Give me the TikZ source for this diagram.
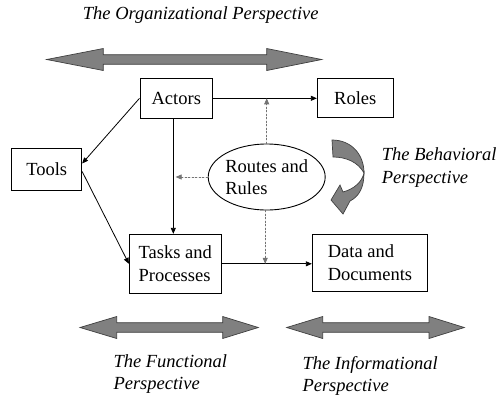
\documentclass[tikz,border=0pt]{standalone}
\usepackage{fontspec}
\setmainfont{Liberation Serif}
\usetikzlibrary{arrows.meta,shapes.geometric}

% wide grey double-headed arrow: left tip, left head base, right head base, right tip, centre y
\newcommand\wideDblArrow[5]{%
  \filldraw[widearrow] (#1,#5) -- (#2,#5-11) -- (#2,#5-4.8) -- (#3,#5-4.8) -- (#3,#5-11)
    -- (#4,#5) -- (#3,#5+11) -- (#3,#5+4.8) -- (#2,#5+4.8) -- (#2,#5+11) -- cycle;}

\begin{document}
\begin{tikzpicture}[x=1pt,y=-1pt,
  every node/.style={font=\fontsize{18.5}{22.5}\selectfont},
  box/.style={draw, line width=0.9pt, align=left, inner sep=0pt},
  conn/.style={line width=0.8pt, -{Triangle[length=6pt,width=5pt]}},
  dotconn/.style={conn, draw=black!55, fill=black!70, dash pattern=on 2pt off 1.5pt, line width=0.7pt},
  perspective/.style={font=\fontsize{18.5}{22.5}\selectfont\itshape, align=left, inner sep=0pt, anchor=west},
  widearrow/.style={fill=gray, draw=black!75, line width=0.7pt, line join=miter},
]
\useasboundingbox (0,0) rectangle (500,397);

% perspective arrows
\wideDblArrow{46.7}{103.3}{266.7}{321.7}{59.5}
\wideDblArrow{80}{116.7}{222.7}{258.3}{327.5}
\wideDblArrow{286.7}{322.7}{429}{464.3}{327.5}

% curved behavioural arrow: back band, then front band with head
\filldraw[widearrow] (332,140) .. controls (352,140) and (364,155) .. (364,173)
  .. controls (358,162) and (346,157) .. (333,157) -- cycle;
\filldraw[widearrow] (364,173) .. controls (364,186) and (360,196) .. (350,201)
  -- (343,214) -- (331,200) -- (340,185) -- (343,192)
  .. controls (354,189) and (362,182) .. (364,173) -- cycle;

% elements
\node[box, minimum width=72.7pt, minimum height=40pt] (act) at (176.3,98.3) {Actors};
\node[box, minimum width=76pt, minimum height=39pt] (rol) at (355.3,98.3) {Roles};
\node[box, minimum width=70pt, minimum height=42.4pt] (tool) at (46.7,169.5) {Tools};
\node[box, minimum width=91.7pt, minimum height=59pt] (task) at (175.2,263.8) {Tasks and\\Processes};
\node[box, minimum width=115.4pt, minimum height=56.7pt] (data) at (370,262.7) {Data and\\Documents};
\node[ellipse, draw, line width=0.9pt, minimum width=116.7pt, minimum height=66pt,
      inner sep=0pt, align=left] (rr) at (266.7,177) {Routes and\\Rules};

% connectors
\coordinate (trunk) at ([xshift=-3pt]act.south);
\coordinate (hit) at (175.6,177);
\draw[conn] (act.east) -- (rol.west);
\draw[conn] (act.west) -- ([yshift=6pt]tool.east);
\draw[conn] ([yshift=-2pt]tool.east) -- (task.west);
\draw[conn] (trunk) -- (trunk |- task.north);
\draw[conn] (task.east) -- (task.east -| data.west);
\draw[dotconn] (rr.west) -- (hit |- rr.west);
\draw[dotconn] (rr.north) -- (rr.north |- act.east);
\draw[dotconn] ([xshift=-1.5pt]rr.south) -- ([xshift=-1.5pt]rr.south |- task.east);

% perspective labels
\node[perspective] (org) at (82.7,15) {The Organizational Perspective};
\node[perspective] (beh) at (381.7,167.5) {The Behavioral\\Perspective};
\node[perspective] (fun) at (113.3,374) {The Functional\\Perspective};
\node[perspective] (inf) at (302.3,375.8) {The Informational\\Perspective};
\end{tikzpicture}
\end{document}
